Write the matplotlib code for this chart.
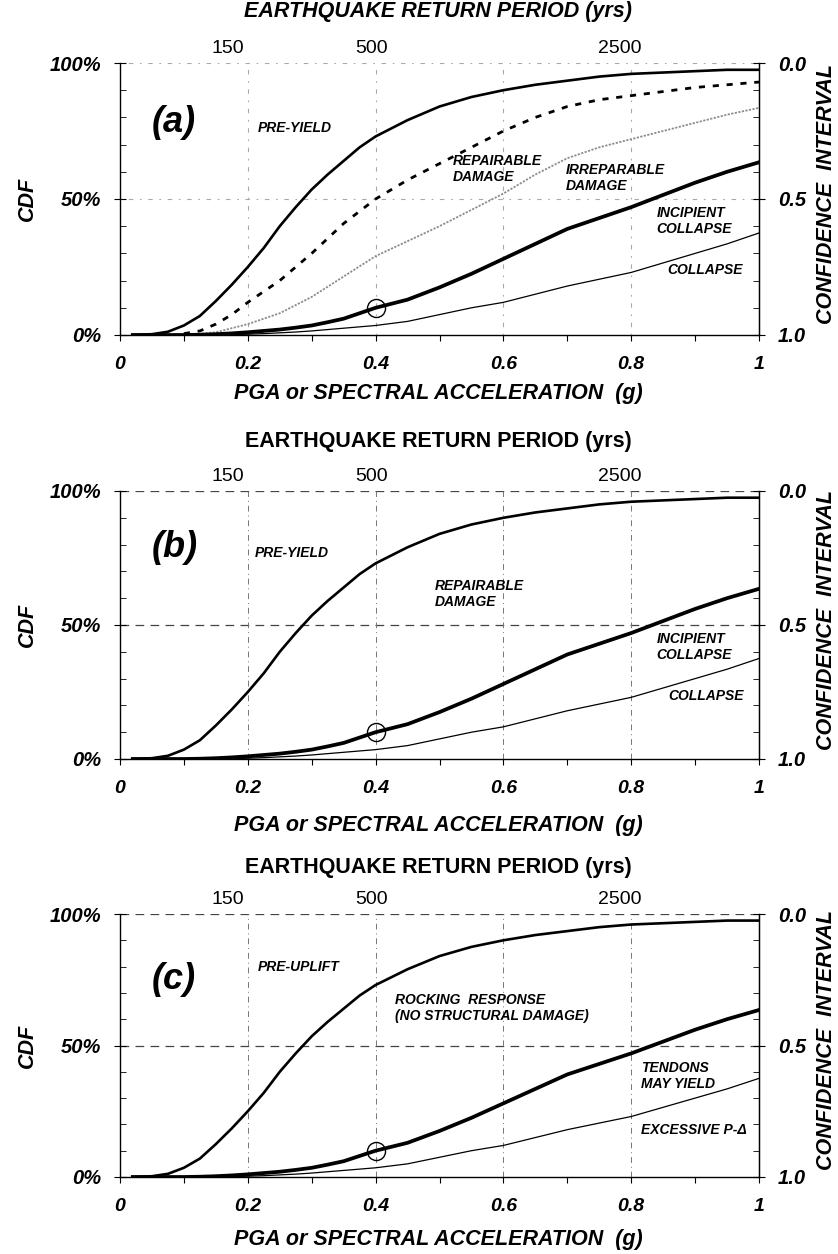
import numpy as np
import matplotlib
matplotlib.use("Agg")
import matplotlib.pyplot as plt
from matplotlib.ticker import MultipleLocator

plt.rcParams['font.family'] = ['Liberation Sans', 'DejaVu Sans']

# ---------------- data ----------------
pga = [0.02, 0.05, 0.075, 0.10, 0.125, 0.15, 0.175, 0.20, 0.225, 0.25, 0.275,
       0.30, 0.325, 0.35, 0.375, 0.40, 0.45, 0.50, 0.55, 0.60, 0.65, 0.70,
       0.75, 0.80, 0.85, 0.90, 0.95, 1.00]

pre_yield = [0.0, 0.003, 0.012, 0.035, 0.07, 0.125, 0.185, 0.25, 0.32, 0.40, 0.47,
             0.535, 0.59, 0.64, 0.69, 0.73, 0.79, 0.84, 0.875, 0.90, 0.92, 0.935,
             0.95, 0.96, 0.965, 0.97, 0.975, 0.975]

incipient = [0.0, 0.0, 0.0, 0.0, 0.001, 0.003, 0.006, 0.01, 0.015, 0.02, 0.027,
             0.035, 0.047, 0.06, 0.08, 0.10, 0.13, 0.175, 0.225, 0.28, 0.335, 0.39,
             0.43, 0.47, 0.515, 0.56, 0.60, 0.635]

collapse = [0.0, 0.0, 0.0, 0.0, 0.0, 0.0, 0.001, 0.003, 0.005, 0.008, 0.011,
            0.015, 0.02, 0.025, 0.03, 0.035, 0.05, 0.075, 0.10, 0.12, 0.15, 0.18,
            0.205, 0.23, 0.265, 0.30, 0.335, 0.375]

repairable_x = [0.10, 0.125, 0.15, 0.175, 0.20, 0.225, 0.25, 0.275, 0.30, 0.325,
                0.35, 0.375, 0.40, 0.45, 0.50, 0.55, 0.60, 0.65, 0.70, 0.75,
                0.80, 0.85, 0.90, 0.95, 1.00]
repairable = [0.005, 0.015, 0.04, 0.075, 0.12, 0.16, 0.20, 0.25, 0.30, 0.355,
              0.41, 0.455, 0.50, 0.57, 0.63, 0.69, 0.75, 0.80, 0.84, 0.865,
              0.88, 0.895, 0.91, 0.92, 0.93]

irreparable_x = [0.10, 0.15, 0.20, 0.25, 0.30, 0.35, 0.40, 0.45, 0.50,
                 0.55, 0.60, 0.65, 0.70, 0.75, 0.80, 0.85, 0.90, 0.95, 1.00]
irreparable = [0.0, 0.01, 0.04, 0.08, 0.14, 0.215, 0.29, 0.345, 0.40,
               0.46, 0.52, 0.59, 0.65, 0.69, 0.72, 0.75, 0.78, 0.81, 0.835]

marker_pt = (0.40, 0.10)

top_tick_pos = [0.169, 0.394, 0.782]
top_labels = ['150', '500', '2500']
grid_x = [0.2, 0.4, 0.6, 0.8]
bottom_ticks = [0, 0.2, 0.4, 0.6, 0.8, 1.0]
bottom_labels = ['0', '0.2', '0.4', '0.6', '0.8', '1']
left_ticks = [0, 0.5, 1.0]
left_labels = ['0%', '50%', '100%']
right_labels = ['1.0', '0.5', '0.0']

panel_a_text = [('PRE-YIELD', 0.216, 0.76), ('REPAIRABLE\nDAMAGE', 0.52, 0.61),
                ('IRREPARABLE\nDAMAGE', 0.698, 0.577), ('INCIPIENT\nCOLLAPSE', 0.84, 0.42),
                ('COLLAPSE', 0.856, 0.24)]
panel_b_text = [('PRE-YIELD', 0.211, 0.77), ('REPAIRABLE\nDAMAGE', 0.493, 0.616),
                ('INCIPIENT\nCOLLAPSE', 0.84, 0.418), ('COLLAPSE', 0.858, 0.235)]
panel_c_text = [('PRE-UPLIFT', 0.216, 0.80),
                ('ROCKING  RESPONSE\n(NO STRUCTURAL DAMAGE)', 0.43, 0.643),
                ('TENDONS\nMAY YIELD', 0.815, 0.384), ('EXCESSIVE P-Δ', 0.815, 0.18)]

# ---------------- figure ----------------
W, H = 838, 1254
fig = plt.figure(figsize=(W / 100, H / 100), dpi=100)

def frac_box(left, top, right, bottom):
    return [left / W, 1 - bottom / H, (right - left) / W, (bottom - top) / H]

panels = [
    dict(box=(120, 63, 759, 335), label='(a)', lab_y=0.78, texts=panel_a_text, full=True,
         title_y=12, title_italic=True, xlab_y=393),
    dict(box=(120, 491, 759, 759), label='(b)', lab_y=0.79, texts=panel_b_text, full=False,
         title_y=441, title_italic=False, xlab_y=826),
    dict(box=(120, 914, 759, 1177), label='(c)', lab_y=0.75, texts=panel_c_text, full=False,
         title_y=867, title_italic=False, xlab_y=1240),
]

bi = dict(fontweight='bold', fontstyle='italic')

for p in panels:
    l, t, r, b = p['box']
    ax = fig.add_axes(frac_box(l, t, r, b))
    ax.set_xlim(0, 1)
    ax.set_ylim(0, 1)
    ax.spines['top'].set_visible(False)
    for s in ['left', 'bottom', 'right']:
        ax.spines[s].set_linewidth(1.0)

    # grid
    if p['full']:
        hkw = dict(color='#a8a8a8', lw=0.8, dashes=(1.5, 6, 4, 6))
        vkw = dict(color='#a8a8a8', lw=0.8, dashes=(1.5, 6, 4, 6))
    else:
        hkw = dict(color='#444444', lw=0.9, dashes=(7, 5))
        vkw = dict(color='#777777', lw=0.7, dashes=(6, 4, 1, 4))
    for yv in [0.5, 1.0]:
        ax.axhline(yv, zorder=0, **hkw)
    for xv in grid_x:
        ax.axvline(xv, zorder=0, **vkw)

    # curves
    ax.plot(pga, pre_yield, color='black', lw=1.9)
    if p['full']:
        ax.plot(repairable_x, repairable, color='black', lw=2.0, dashes=(2.2, 2.8))
        ax.plot(irreparable_x, irreparable, color='#8c8c8c', lw=1.3, dashes=(1.2, 0.8))
    ax.plot(pga, incipient, color='black', lw=2.7)
    ax.plot(pga, collapse, color='black', lw=0.9)
    ax.plot([marker_pt[0]], [marker_pt[1]], marker='o', ms=13, mfc='none',
            mec='black', mew=1.0)

    # ticks
    ax.set_xticks(bottom_ticks)
    ax.set_xticklabels(bottom_labels, fontsize=14, **bi)
    ax.xaxis.set_minor_locator(MultipleLocator(0.1))
    ax.tick_params(axis='x', which='both', direction='out', length=4, width=0.8, pad=11)
    ax.set_yticks(left_ticks)
    ax.set_yticklabels(left_labels, fontsize=14.5, **bi)
    ax.yaxis.set_minor_locator(MultipleLocator(0.1))
    ax.tick_params(axis='y', which='major', direction='inout', length=9, width=0.8, pad=9)
    ax.tick_params(axis='y', which='minor', direction='in', length=4, width=0.6)

    # right axis
    axr = ax.twinx()
    axr.set_ylim(1, 0)
    axr.set_yticks([1.0, 0.5, 0.0])
    axr.set_yticklabels(right_labels, fontsize=14.5, **bi)
    axr.yaxis.set_minor_locator(MultipleLocator(0.1))
    axr.tick_params(axis='y', which='major', direction='inout', length=9, width=0.8, pad=9)
    axr.tick_params(axis='y', which='minor', direction='in', length=4, width=0.6)
    for s in ['top', 'left', 'bottom']:
        axr.spines[s].set_visible(False)

    # top axis (return period)
    axt = ax.twiny()
    axt.set_xlim(0, 1)
    axt.set_xticks(top_tick_pos)
    axt.set_xticklabels(top_labels, fontsize=14)
    axt.tick_params(axis='x', length=0, pad=4)
    for s in ['top', 'left', 'bottom', 'right']:
        axt.spines[s].set_visible(False)

    # titles / axis labels placed in figure pixels
    cy = (t + b) / 2
    fig.text(438 / W, 1 - p['title_y'] / H, 'EARTHQUAKE RETURN PERIOD (yrs)',
             ha='center', va='center', fontsize=15.5, fontweight='bold',
             fontstyle='italic' if p['title_italic'] else 'normal')
    fig.text(438 / W, 1 - p['xlab_y'] / H, 'PGA or SPECTRAL ACCELERATION  (g)',
             ha='center', va='center', fontsize=15.5, **bi)
    fig.text(27 / W, 1 - cy / H, 'CDF', ha='center', va='center', rotation=90,
             fontsize=15.5, **bi)
    fig.text(826 / W, 1 - (cy - 5) / H, 'CONFIDENCE  INTERVAL', ha='center', va='center',
             rotation=90, fontsize=15.5, **bi)

    # panel label
    ax.text(0.05, p['lab_y'], p['label'], fontsize=26, ha='left', va='center', **bi)

    # region annotations
    for txt, xx, yy in p['texts']:
        ax.text(xx, yy, txt, fontsize=10, ha='left', va='center', linespacing=1.2,
                fontstyle='italic', fontweight='bold')

fig.savefig('out.png', dpi=100)
